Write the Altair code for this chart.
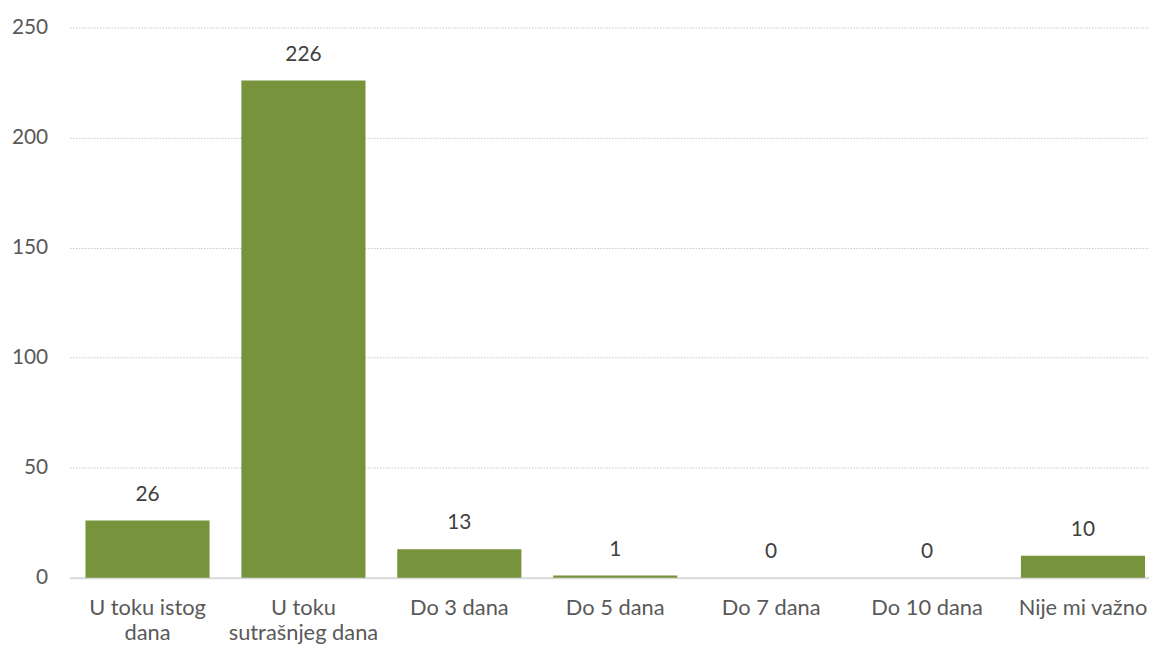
import altair as alt
import pandas as pd

categories = ["U toku istog dana", "U toku sutrašnjeg dana", "Do 3 dana", "Do 5 dana",
              "Do 7 dana", "Do 10 dana", "Nije mi važno"]
labels = ["U toku istog|dana", "U toku|sutrašnjeg dana", "Do 3 dana", "Do 5 dana",
          "Do 7 dana", "Do 10 dana", "Nije mi važno"]
values = [26, 226, 13, 1, 0, 0, 10]

df = pd.DataFrame({"cat": labels, "value": values})

FONT = "Lato"
FS = 21

x = alt.X("cat:N", sort=labels, title=None,
          scale=alt.Scale(paddingInner=0.204, paddingOuter=0.102, range=[0, 1099]),
          axis=alt.Axis(labelAngle=0, labelExpr="split(datum.label, '|')",
                        labelFontSize=22, labelColor="#595959", labelFont=FONT,
                        labelPadding=20, labelLineHeight=25, ticks=False,
                        domainColor="#d9d9d9", domainWidth=2, labelLimit=300))
y = alt.Y("value:Q", title=None,
          scale=alt.Scale(domain=[0, 250], nice=False),
          axis=alt.Axis(values=[0, 50, 100, 150, 200, 250], labelFontSize=FS,
                        labelColor="#595959", labelFont=FONT, labelPadding=22,
                        ticks=False, domain=False, gridColor="#c8c8c8",
                        gridDash=[1.5, 1.5], gridWidth=1))

bars = alt.Chart(df).mark_bar(color="#77933C").encode(x=x, y=y)
text = alt.Chart(df).mark_text(baseline="middle", dy=-26, fontSize=FS, font=FONT,
                               color="#404040").encode(
    x=alt.X("cat:N", sort=labels), y="value:Q", text="value:Q")

chart = (bars + text).properties(
    width=1087, height=554,
    autosize=alt.AutoSizeParams(type="none"),
    padding={"left": 62, "top": 17.5, "right": 0, "bottom": 65},
).configure_view(stroke=None)

chart.save("out.html", embed_options={"renderer": "svg", "actions": False})
